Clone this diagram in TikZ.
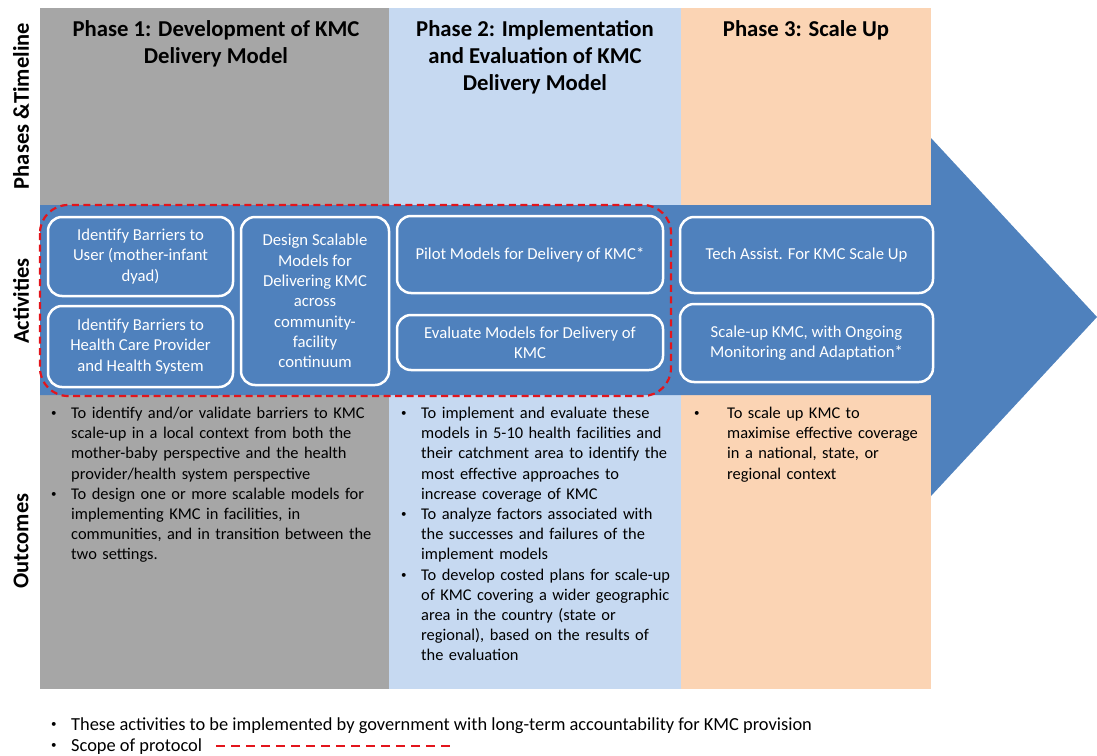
\documentclass[tikz,border=0pt]{standalone}
\usepackage{fontspec}
\setmainfont{Carlito}
\usetikzlibrary{positioning,calc}

\definecolor{phaseone}{HTML}{A6A6A6}
\definecolor{phasetwo}{HTML}{C6D9F1}
\definecolor{phasethree}{HTML}{FBD4B4}
\definecolor{bandblue}{HTML}{4F81BD}
\definecolor{scopered}{HTML}{E3151C}

\newcommand{\smallbul}{\raisebox{0.25ex}{\fontsize{11}{11}\selectfont\textbullet}}
\newcommand{\bitem}[1][24pt]{\par\noindent\hangindent=#1\hangafter=1\makebox[#1][l]{\hspace{4pt}\smallbul}\ignorespaces}

\tikzset{
  actbox/.style={draw=white,line width=2.5pt,rounded corners=14pt,text=white,align=center,
    font=\fontsize{16.7}{20.3}\selectfont,inner sep=2pt},
  phasetitle/.style={font=\fontsize{22.7}{27}\selectfont\bfseries,align=center,anchor=north,inner sep=0pt},
  rowlabel/.style={font=\fontsize{22.5}{26}\selectfont\bfseries,rotate=90},
  outtext/.style={font=\fontsize{16.4}{20.2}\selectfont,align=left,anchor=north west,inner sep=0pt},
  notetext/.style={font=\fontsize{18.4}{21}\selectfont,anchor=base west,inner sep=0pt},
  scopeline/.style={draw=scopered,line width=2.2pt,dash pattern=on 7pt off 4.5pt},
}

\begin{document}
\begin{tikzpicture}[x=1pt,y=-1pt]
\useasboundingbox (0,0) rectangle (1097,755);

% phase columns
\fill[phaseone] (40,8) rectangle (389,689);
\fill[phasetwo] (389,8) rectangle (681,689);
\fill[phasethree] (681,8) rectangle (931,689);

% activity band with arrow head
\fill[bandblue] (40,205) -- (931,205) -- (931,138) -- (1097,317) -- (931,496) -- (931,395) -- (40,395) -- cycle;

% row labels
\node[rowlabel] (rowphase) at (21,106) {Phases \&Timeline};
\node[rowlabel] (rowact) at (21,301) {Activities};
\node[rowlabel] (rowout) at (21,541) {Outcomes};

% titles
\node[phasetitle] (title1) at (216,20) {Phase 1: Development of KMC\\Delivery Model};
\node[phasetitle] (title2) at (535,20) {Phase 2: Implementation\\and Evaluation of KMC\\Delivery Model};
\node[phasetitle] (title3) at (806,20) {Phase 3: Scale Up};

% activities
\node[actbox,minimum width=185pt,minimum height=79pt] (userbar) at (140.5,256.5) {Identify Barriers to\\User (mother-infant\\dyad)};
\node[actbox,minimum width=185pt,minimum height=81pt] (provbar) at (140.5,346.5) {Identify Barriers to\\Health Care Provider\\and Health System};
\node[actbox,minimum width=148pt,minimum height=168pt] (design) at (315,301) {Design Scalable\\Models for\\Delivering KMC\\across\\community-\\facility\\continuum};
\node[actbox,minimum width=266pt,minimum height=77pt] (pilot) at (530,254.5) {Pilot Models for Delivery of KMC*};
\node[actbox,minimum width=266pt,minimum height=55pt] (evaluate) at (530,342.5) {Evaluate Models for Delivery of\\KMC};
\node[actbox,minimum width=253pt,minimum height=76pt] (techassist) at (806.5,255) {Tech Assist. For KMC Scale Up};
\node[actbox,minimum width=253pt,minimum height=78pt] (scaleup) at (806.5,343) {Scale-up KMC, with Ongoing\\Monitoring and Adaptation*};

% scope of protocol
\draw[scopeline,rounded corners=28pt] (40,205) rectangle (671,396);

% outcomes
\node[outtext,text width=345pt] (out1) at (47,398) {%
\bitem To identify and/or validate barriers to KMC\newline scale-up in a local context from both the\newline mother-baby perspective and the health\newline provider/health system perspective
\bitem To design one or more scalable models for\newline implementing KMC in facilities, in\newline communities, and in transition between the\newline two settings.\par};
\node[outtext,text width=285pt] (out2) at (397,398) {%
\bitem To implement and evaluate these\newline models in 5-10 health facilities and\newline their catchment area to identify the\newline most effective approaches to\newline increase coverage of KMC
\bitem To analyze factors associated with\newline the successes and failures of the\newline implement models
\bitem To develop costed plans for scale-up\newline of KMC covering a wider geographic\newline area in the country (state or\newline regional), based on the results of\newline the evaluation\par};
\node[outtext,text width=240pt] (out3) at (690,398) {%
\bitem[37pt] To scale up KMC to\newline maximise effective coverage\newline in a national, state, or\newline regional context\par};

% notes
\node[notetext] (noteA) at (47,730) {\makebox[24pt][l]{\hspace{4pt}\smallbul}These activities to be implemented by government with long-term accountability for KMC provision};
\node[notetext] (noteB) at (47,751) {\makebox[24pt][l]{\hspace{4pt}\smallbul}Scope of protocol};
\coordinate (legend end) at (455,746);
\draw[scopeline,dash pattern=on 9pt off 6pt] ([xshift=14pt]noteB.east) -- (noteB.east -| legend end);
\end{tikzpicture}
\end{document}
